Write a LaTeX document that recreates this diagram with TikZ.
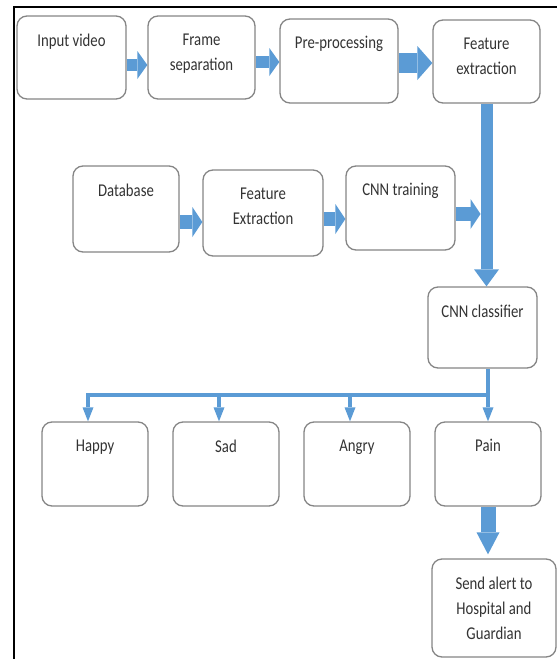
\documentclass[tikz,border=0pt]{standalone}
\usepackage{fontspec}
\setmainfont{Carlito}[FakeStretch=0.82]
\usetikzlibrary{arrows.meta}
\definecolor{flowblue}{HTML}{5B9BD5}
\definecolor{boxgray}{HTML}{858585}
\definecolor{labelgray}{HTML}{333333}
\tikzset{
  box/.style={draw=boxgray, line width=1.3pt, rounded corners=10pt, fill=white,
    minimum width=106pt, minimum height=83pt, inner sep=0pt},
  lbl/.style={anchor=north, inner sep=0pt, align=center, text=labelgray,
    font=\fontsize{18}{25}\selectfont},
  fat/.style={draw=flowblue, line width=12pt,
    -{Triangle[length=10pt,width=28pt,line width=0pt]}},
  wide/.style={draw=flowblue, line width=14pt,
    -{Triangle[length=10pt,width=30pt,line width=0pt]}},
  feed/.style={draw=flowblue, line width=4pt},
  drop/.style={feed, -{Triangle[length=14pt,width=11pt,line width=0pt]}}
}
\begin{document}
\begin{tikzpicture}[x=1pt,y=-1pt]
    \useasboundingbox (0,0) rectangle (557,659);
    \draw [line width=2pt] (14,659) -- (14,7) -- (557,7);

    % boxes
    \node [box, minimum width=109pt] (input) at (71.5,57.5) {};
    \node [box, minimum width=107pt] (frame) at (201.5,57.5) {};
    \node [box, minimum width=118pt, minimum height=84pt] (prep) at (339,61) {};
    \node [box, minimum width=107pt] (featx) at (486.5,61.5) {};
    \node [box, minimum height=86pt] (db) at (126,209) {};
    \node [box, minimum width=120pt, minimum height=86pt] (fext) at (263,213) {};
    \node [box, minimum width=109pt, minimum height=84pt] (cnnt) at (400.5,208) {};
    \node [box, minimum width=109pt, minimum height=81pt] (cls) at (482.5,327.5) {};
    \foreach \b/\x in {happy/95,sad/226,angry/357,pain/488}
        {\node [box, minimum height=84pt] (\b) at (\x,464) {};}
    \node [box, minimum width=124pt, minimum height=98pt] (send) at (494,608) {};

    \foreach \b/\t in {input/Input video, frame/Frame\\separation, prep/Pre-processing,
        featx/Feature\\extraction, db/Database, fext/Feature\\Extraction,
        cnnt/CNN training, cls/CNN classifier, happy/Happy, sad/Sad, angry/Angry,
        pain/Pain, send/Send alert to\\Hospital and\\Guardian}
        {\node [lbl] (\b-t) at ([yshift=-18pt]\b.north) {\t};}

    % arrows
    \draw [fat] (input.east |- 0,65) -- (frame.west |- 0,65);
    \draw [fat] (frame.east |- 0,62) -- (prep.west |- 0,62);
    \draw [draw=flowblue, line width=20pt, -{Triangle[length=15pt,width=34pt,line width=0pt]}]
        (prep.east |- 0,63) -- (featx.west |- 0,63);
    \draw [wide] (db.east |- 0,222) -- (fext.west |- 0,222);
    \draw [wide] (fext.east |- 0,219) -- (cnnt.west |- 0,219);
    \draw [wide, shorten >=6pt] (cnnt.east |- 0,214) -- (featx.south |- 0,214);
    \draw [fat, -{Triangle[length=17pt,width=25pt,line width=0pt]}]
        (featx.south) -- (featx.south |- cls.north);

    \coordinate (split) at (pain.north |- 0,395);
    \foreach \b in {happy,sad,angry}
        {\coordinate (\b-in) at ([xshift=-7pt]\b.north);}
    \draw [feed, line cap=rect] (split) -- (happy-in |- split);
    \draw [drop] (cls.south -| split) -- (pain.north);
    \foreach \b in {happy,sad,angry}
        {\draw [drop] (\b-in |- split) -- (\b-in);}
    \draw [draw=flowblue, line width=15pt, -{Triangle[length=22pt,width=23pt,line width=0pt]},
        shorten >=4pt] (pain.south) -- (pain.south |- send.north);
\end{tikzpicture}
\end{document}
